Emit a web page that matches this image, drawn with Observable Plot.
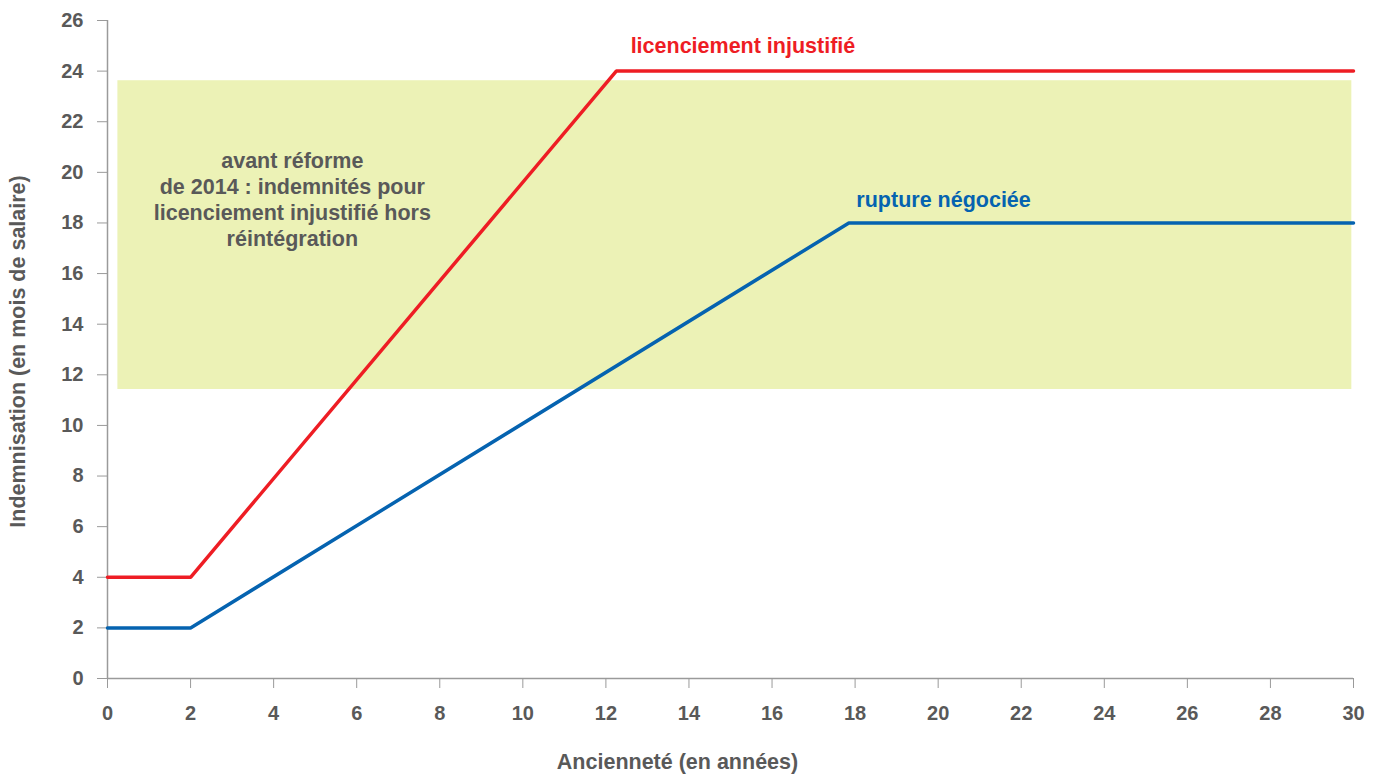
<!DOCTYPE html>
<html>
<head>
<meta charset="utf-8">
<script src="https://cdn.jsdelivr.net/npm/d3@7"></script>
<script src="https://cdn.jsdelivr.net/npm/@observablehq/plot@0.6"></script>
<style>
  html, body { margin: 0; padding: 0; background: #fff; }
  svg { display: block; }
</style>
</head>
<body>
<div id="chart"></div>
<script>
// Ancienneté (années) / Indemnisation (mois de salaire)
const licenciementX = [0, 2, 12.25, 30];
const licenciementY = [4, 4, 24, 24];
const ruptureX = [0, 2, 17.85, 30];
const ruptureY = [2, 2, 18, 18];
// Zone "avant réforme de 2014"
const zoneX = [0.25, 29.96];
const zoneY = [11.42, 23.62];
const xTicks = d3.range(0, 31, 2);
const yTicks = d3.range(0, 27, 2);
const annotationText = "avant réforme\nde 2014 : indemnités pour\nlicenciement injustifié hors\nréintégration";
const annotationPos = [4.45, 18.95];
const seriesLabels = ["licenciement injustifié", "rupture négociée"];
const labelX = [15.3, 20.13];
const labelY = [25.0, 18.9];

const FONT = "'Liberation Sans', Arial, sans-serif";
const GREY = "#595959";
const RED = "#ee1d24";
const BLUE = "#0563b0";

const lic = licenciementX.map((x, i) => ({x, y: licenciementY[i]}));
const rup = ruptureX.map((x, i) => ({x, y: ruptureY[i]}));
const zone = [{x1: zoneX[0], x2: zoneX[1], y1: zoneY[0], y2: zoneY[1]}];
const annot = [{t: annotationText, x: annotationPos[0], y: annotationPos[1]}];
const labels = seriesLabels.map((t, i) => ({t, x: labelX[i], y: labelY[i], c: i === 0 ? RED : BLUE}));

const chart = Plot.plot({
  width: 1376,
  height: 776,
  marginLeft: 107,
  marginRight: 23,
  marginTop: 20,
  marginBottom: 98,
  style: {fontFamily: FONT, fontWeight: "bold", fontSize: "20px", color: GREY, background: "#fff"},
  x: {domain: [0, 30]},
  y: {domain: [0, 26]},
  marks: [
    Plot.rect(zone, {x1: "x1", x2: "x2", y1: "y1", y2: "y2", fill: "#ecf2b6"}),
    Plot.ruleY([0], {stroke: "#9a9a9a", strokeWidth: 1.5}),
    Plot.ruleX([0], {stroke: "#9a9a9a", strokeWidth: 1.5}),
    Plot.axisX({ticks: xTicks, tickSize: 10, tickPadding: 17, stroke: "#9a9a9a", fill: GREY, label: null, fontSize: 20, fontWeight: "bold"}),
    Plot.axisY({ticks: yTicks, tickSize: 10, tickPadding: 14, stroke: "#9a9a9a", fill: GREY, label: null, fontSize: 20, fontWeight: "bold"}),
    Plot.line(lic, {x: "x", y: "y", stroke: RED, strokeWidth: 3.5, strokeLinejoin: "miter"}),
    Plot.line(rup, {x: "x", y: "y", stroke: BLUE, strokeWidth: 3.5, strokeLinejoin: "miter"}),
    Plot.text(annot, {x: "x", y: "y", text: "t", fill: GREY, fontSize: 21.5, fontWeight: "bold", lineHeight: 1.2}),
    Plot.text(labels, {x: "x", y: "y", text: "t", fill: "c", fontSize: 21.5, fontWeight: "bold"}),
    Plot.text(["Indemnisation (en mois de salaire)"], {frameAnchor: "left", textAnchor: "middle", rotate: -90, dx: -89, dy: 2, fill: GREY, fontSize: 21.5, fontWeight: "bold"}),
    Plot.text(["Ancienneté (en années)"], {frameAnchor: "bottom", dy: 90, dx: -53, fill: GREY, fontSize: 21.5, fontWeight: "bold"})
  ]
});
document.getElementById("chart").appendChild(chart);
</script>
</body>
</html>
